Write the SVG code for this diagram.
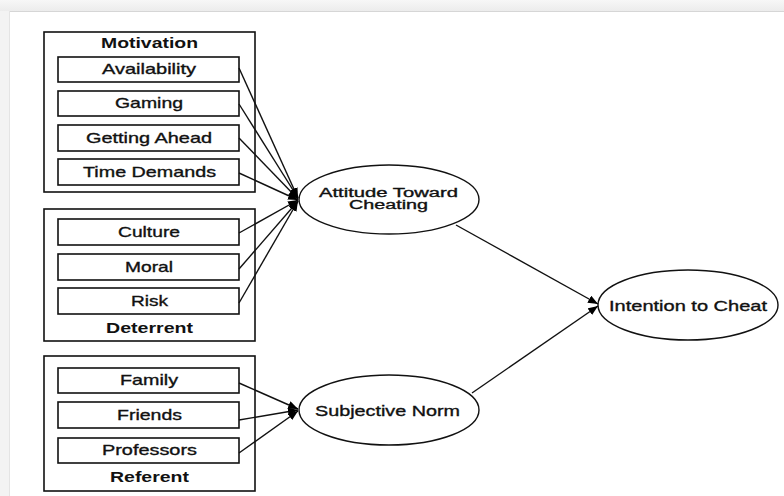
<svg xmlns="http://www.w3.org/2000/svg" width="784" height="496" viewBox="0 0 784 496">
<defs>
<linearGradient id="topbar" x1="0" y1="0" x2="0" y2="1"><stop offset="0" stop-color="#f7f7f7"/><stop offset="1" stop-color="#ececec"/></linearGradient>
<marker id="arr" viewBox="0 0 10 8" refX="10" refY="4" markerWidth="10" markerHeight="8" markerUnits="userSpaceOnUse" orient="auto"><path d="M0,0 L10,4 L0,8 z" fill="#000"/></marker>
<style>
.grp{fill:#fff;stroke:#111;stroke-width:1.6}
.box{fill:#fff;stroke:#111;stroke-width:1.6}
.ell{fill:#fff;stroke:#111;stroke-width:1.4}
.lbl{font-family:"Liberation Sans",Arial,sans-serif;font-size:15px;fill:#111;stroke:#111;stroke-width:0.35;text-anchor:middle}
.sm{font-size:12.5px}
.ttl{font-family:"Liberation Sans",Arial,sans-serif;font-size:15px;font-weight:bold;fill:#111;text-anchor:middle}
.con{stroke:#111;stroke-width:1.4;fill:none;marker-end:url(#arr)}
</style>
</defs>
<rect x="0" y="0" width="784" height="496" fill="#f3f3f3"/>
<rect x="0" y="0" width="784" height="11" fill="url(#topbar)"/>
<rect x="9" y="11" width="775" height="485" fill="#fff"/>
<line x1="9" y1="11.5" x2="784" y2="11.5" stroke="#d6d6d6" stroke-width="1"/>
<line x1="9.5" y1="11" x2="9.5" y2="496" stroke="#e4e4e4" stroke-width="1"/>

<g id="motivation">
<rect class="grp" x="44" y="32" width="211" height="160"/>
<text class="ttl" x="149.5" y="48" textLength="97" lengthAdjust="spacingAndGlyphs">Motivation</text>
</g>
<g id="availability"><rect class="box" x="58" y="57" width="181" height="25"/><text class="lbl" x="149" y="74" textLength="94" lengthAdjust="spacingAndGlyphs">Availability</text></g>
<g id="gaming"><rect class="box" x="58" y="91" width="181" height="25"/><text class="lbl" x="149" y="108" textLength="68" lengthAdjust="spacingAndGlyphs">Gaming</text></g>
<g id="getting-ahead"><rect class="box" x="58" y="125" width="181" height="26"/><text class="lbl" x="149" y="142.5" textLength="126" lengthAdjust="spacingAndGlyphs">Getting Ahead</text></g>
<g id="time-demands"><rect class="box" x="58" y="159" width="181" height="26"/><text class="lbl" x="149.5" y="176.5" textLength="133" lengthAdjust="spacingAndGlyphs">Time Demands</text></g>

<g id="deterrent">
<rect class="grp" x="44" y="209" width="211" height="132"/>
<text class="ttl" x="149.5" y="332.5" textLength="87" lengthAdjust="spacingAndGlyphs">Deterrent</text>
</g>
<g id="culture"><rect class="box" x="58" y="219" width="181" height="26"/><text class="lbl" x="149" y="236.5" textLength="62" lengthAdjust="spacingAndGlyphs">Culture</text></g>
<g id="moral"><rect class="box" x="58" y="254" width="181" height="26"/><text class="lbl" x="149" y="271.5" textLength="48" lengthAdjust="spacingAndGlyphs">Moral</text></g>
<g id="risk"><rect class="box" x="58" y="288" width="181" height="26"/><text class="lbl" x="149.5" y="305.5" textLength="37" lengthAdjust="spacingAndGlyphs">Risk</text></g>

<g id="referent">
<rect class="grp" x="44" y="356" width="211" height="135"/>
<text class="ttl" x="149.5" y="481.5" textLength="79" lengthAdjust="spacingAndGlyphs">Referent</text>
</g>
<g id="family"><rect class="box" x="58" y="368" width="181" height="25"/><text class="lbl" x="149" y="385" textLength="58" lengthAdjust="spacingAndGlyphs">Family</text></g>
<g id="friends"><rect class="box" x="58" y="402" width="181" height="26"/><text class="lbl" x="149.5" y="419.5" textLength="65" lengthAdjust="spacingAndGlyphs">Friends</text></g>
<g id="professors"><rect class="box" x="58" y="438" width="181" height="25"/><text class="lbl" x="149.5" y="455" textLength="95" lengthAdjust="spacingAndGlyphs">Professors</text></g>

<g id="attitude">
<ellipse class="ell" cx="389" cy="199.5" rx="90" ry="34.5"/>
<text class="lbl sm" x="388.5" y="196.5" textLength="139" lengthAdjust="spacingAndGlyphs">Attitude Toward</text>
<text class="lbl sm" x="388.5" y="209" textLength="79" lengthAdjust="spacingAndGlyphs">Cheating</text>
</g>
<g id="subjective-norm">
<ellipse class="ell" cx="389" cy="410" rx="90" ry="35"/>
<text class="lbl" x="387.5" y="415.5" textLength="145" lengthAdjust="spacingAndGlyphs">Subjective Norm</text>
</g>
<g id="intention">
<ellipse class="ell" cx="688" cy="305" rx="90" ry="35"/>
<text class="lbl" x="688" y="310.5" textLength="158" lengthAdjust="spacingAndGlyphs">Intention to Cheat</text>
</g>

<g id="connectors">
<line class="con" x1="239" y1="68" x2="298" y2="198"/>
<line class="con" x1="239" y1="104" x2="298" y2="198"/>
<line class="con" x1="239" y1="138" x2="298" y2="199"/>
<line class="con" x1="239" y1="173" x2="298" y2="200"/>
<line class="con" x1="239" y1="233" x2="298" y2="200"/>
<line class="con" x1="239" y1="269" x2="298" y2="201"/>
<line class="con" x1="239" y1="303" x2="298" y2="201"/>
<line class="con" x1="239" y1="383" x2="298" y2="409"/>
<line class="con" x1="239" y1="420" x2="298" y2="410"/>
<line class="con" x1="239" y1="453" x2="298" y2="411"/>
<line class="con" x1="456" y1="225" x2="598" y2="304"/>
<line class="con" x1="472" y1="393" x2="598" y2="306"/>
</g>
</svg>
